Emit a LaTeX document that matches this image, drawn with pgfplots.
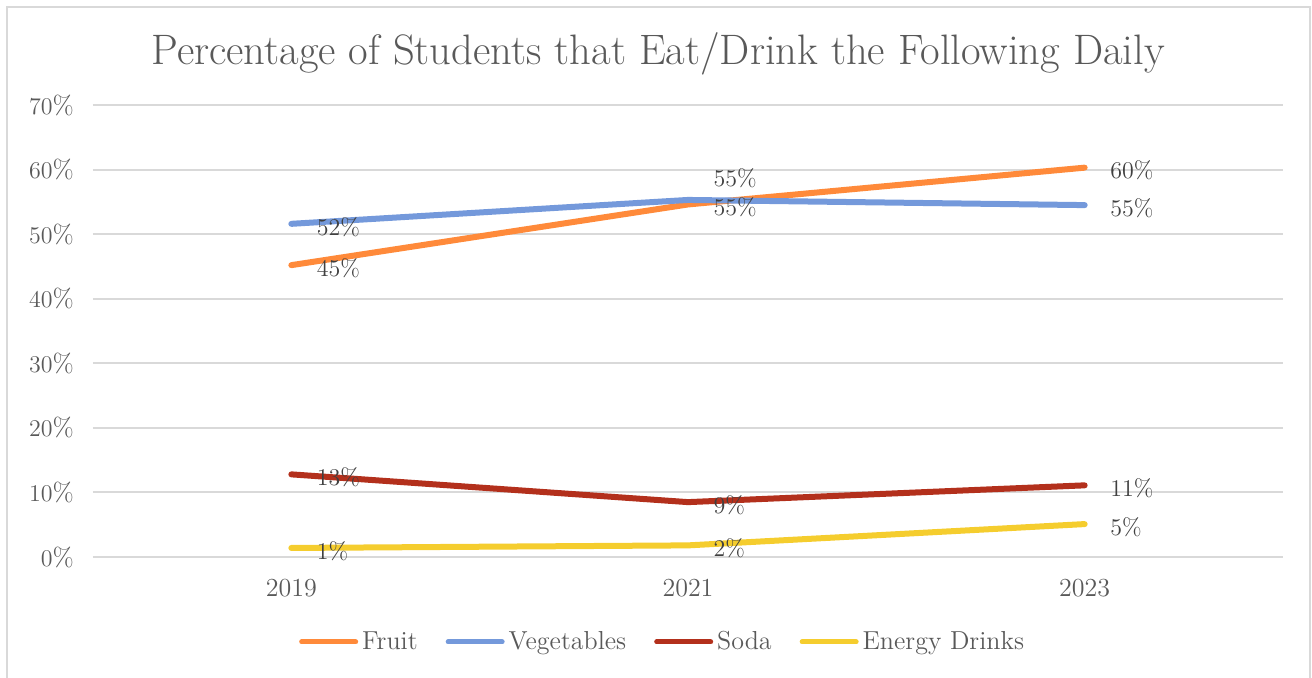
\documentclass[border=0pt]{standalone}
\usepackage{pgfplots}
\pgfplotsset{compat=1.18}
\definecolor{fruit}{HTML}{FF8A3A}
\definecolor{veg}{HTML}{7499DB}
\definecolor{soda}{HTML}{B3301C}
\definecolor{energy}{HTML}{F5CD2E}
\definecolor{gridc}{HTML}{D9D9D9}
\definecolor{txt}{HTML}{595959}
\definecolor{lab}{HTML}{404040}

\pgfplotstableread{
x y m dy
0 45.2 45 -1.5
1 54.6 55 -1.5
2 60.3 60 -1.5
}\fruit
\pgfplotstableread{
x y m dy
0 51.6 52 -1.5
1 55.3 55 11
2 54.5 55 -1.5
}\veg
\pgfplotstableread{
x y m dy
0 12.8 13 -1.5
1 8.5 9 -1.5
2 11.1 11 -1.5
}\soda
\pgfplotstableread{
x y m dy
0 1.4 1 -1.5
1 1.8 2 -1.5
2 5.1 5 -1.5
}\energy

\begin{document}
\begin{tikzpicture}
\useasboundingbox (0,0) rectangle (656pt,338.5pt);
\draw[gridc, line width=0.75pt] (3.5pt,-5pt) rectangle (655pt,335pt);
\node[txt, font=\fontsize{21.3}{25}\selectfont] at (329pt,311.5pt) {Percentage of Students that Eat/Drink the Following Daily};
\begin{axis}[
 at={(46.5pt,60pt)}, anchor=south west,
 scale only axis, width=595pt, height=226pt,
 xmin=-0.5, xmax=2.5, ymin=0, ymax=70,
 xtick={0,1,2}, xticklabels={2019,2021,2023},
 ytick={0,10,...,70},
 yticklabel={\pgfmathprintnumber{\tick}\%},
 axis line style={draw=none},
 major tick length=0pt,
 ymajorgrids, grid style={gridc, line width=1pt},
 tick label style={txt, font=\fontsize{13}{15}\selectfont},
 xticklabel style={yshift=-7.5pt},
 yticklabel style={xshift=-6pt},
 legend columns=-1,
 legend style={draw=none, fill=none, at={(0.4795,-0.188)}, anchor=center,
   font=\fontsize{13}{15}\selectfont, text=txt,
   /tikz/every even column/.append style={column sep=12pt}},
 legend image code/.code={\draw[line width=2.5pt, line cap=round] (0pt,0pt) -- (27pt,0pt);},
 point meta=explicit,
 nodes near coords={\pgfmathprintnumber{\pgfplotspointmeta}\%},
 visualization depends on={\thisrow{dy} \as \dy},
 every node near coord/.append style={anchor=west, xshift=8pt, yshift=\dy, text=lab, font=\fontsize{12}{14}\selectfont},
 every axis plot/.append style={line width=3pt, line cap=round, line join=round},
]
\addplot[fruit] table[x=x, y=y, meta=m] {\fruit};
\addlegendentry{Fruit}
\addplot[veg] table[x=x, y=y, meta=m] {\veg};
\addlegendentry{Vegetables}
\addplot[soda] table[x=x, y=y, meta=m] {\soda};
\addlegendentry{Soda}
\addplot[energy] table[x=x, y=y, meta=m] {\energy};
\addlegendentry{Energy Drinks}
\end{axis}
\end{tikzpicture}
\end{document}
